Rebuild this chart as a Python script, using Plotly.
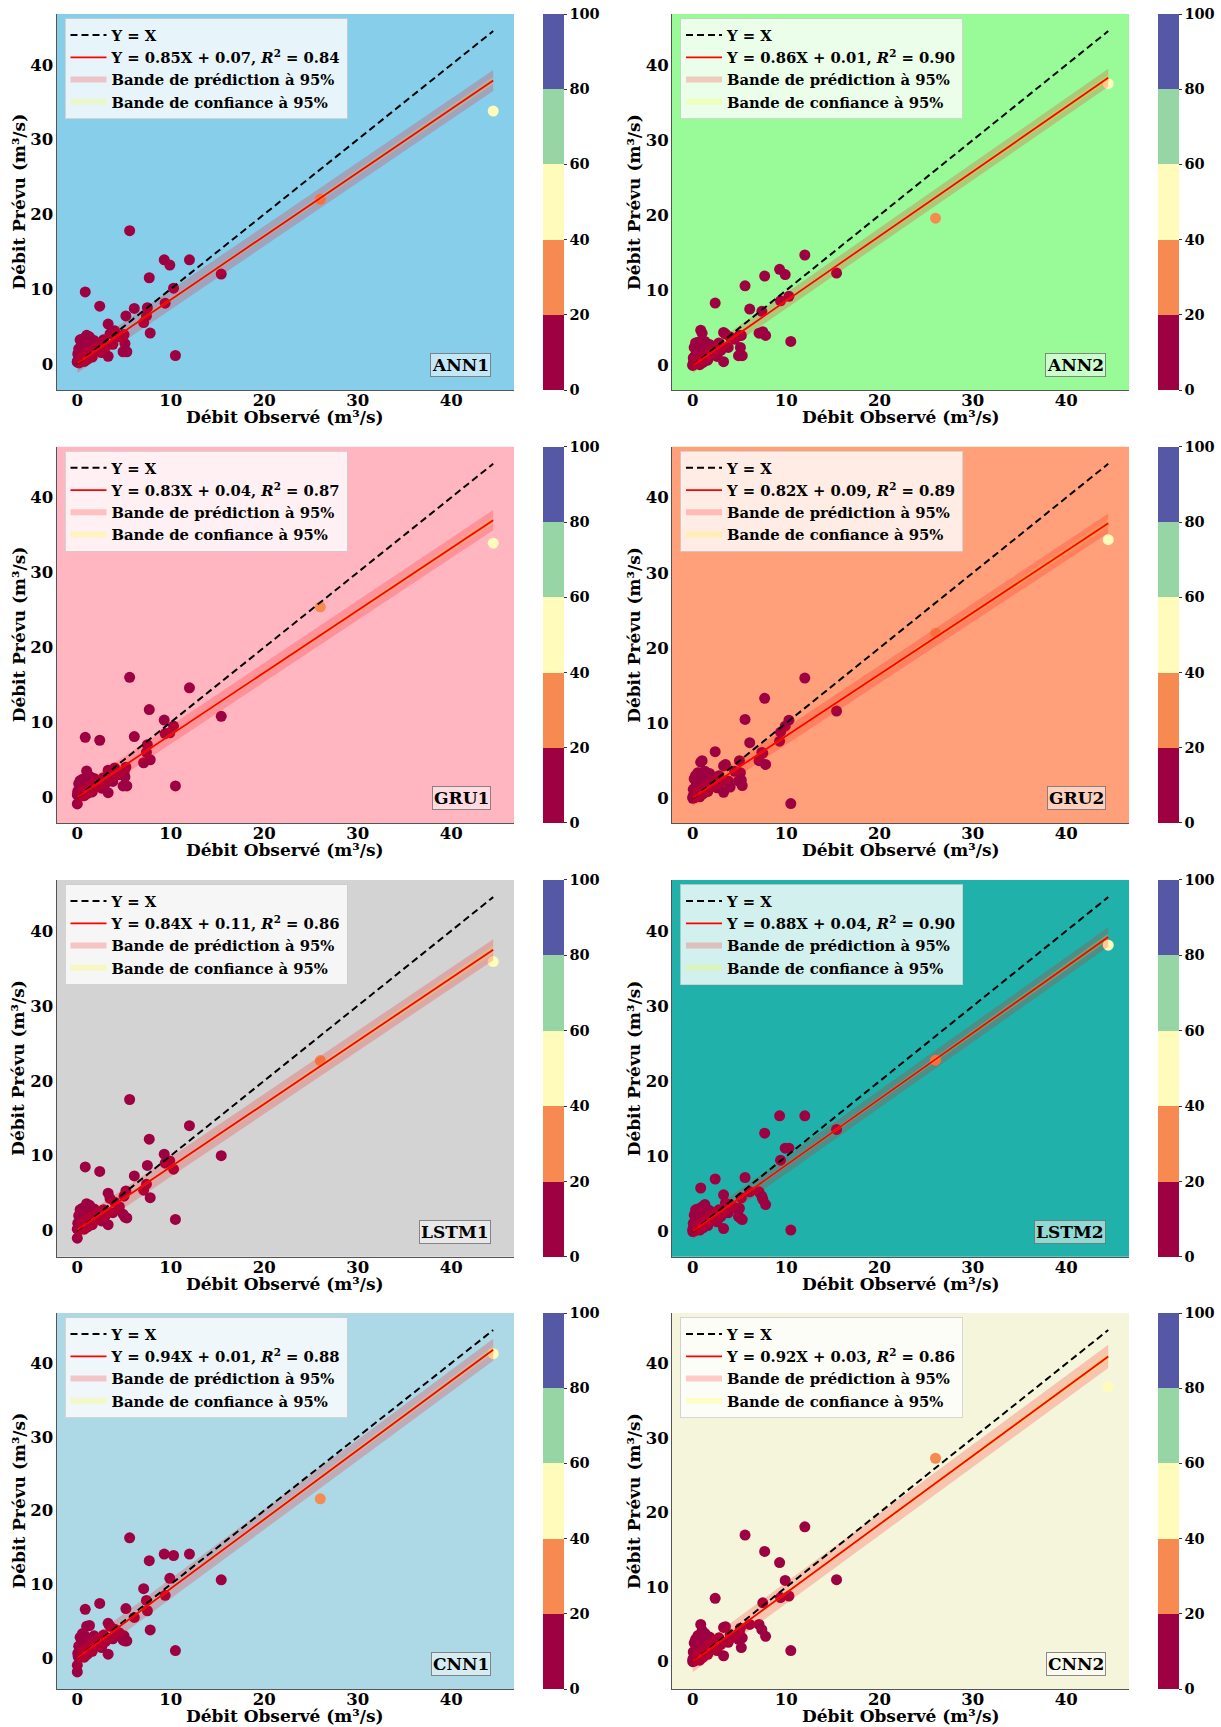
import plotly.graph_objects as go

# ---------------- data ----------------
MODELS = ["ANN1", "ANN2", "GRU1", "GRU2", "LSTM1", "LSTM2", "CNN1", "CNN2"]
SLOPES = [0.85, 0.86, 0.83, 0.82, 0.84, 0.88, 0.94, 0.92]
INTERCEPTS = [0.07, 0.01, 0.04, 0.09, 0.11, 0.04, 0.01, 0.03]
R2 = [0.84, 0.90, 0.87, 0.89, 0.86, 0.90, 0.88, 0.86]
BG_COLORS = ["#87ceeb", "#98fb98", "#ffb6c1", "#ffa07a",
             "#d3d3d3", "#20b2aa", "#add8e6", "#f5f5dc"]
X_TITLE = "Débit Observé (m³/s)"
Y_TITLE = "Débit Prévu (m³/s)"

OBS = [0.00, 0.00, 0.05, 0.10, 0.15, 0.20, 0.25, 0.30, 0.35, 0.40,
       0.45, 0.50, 0.55, 0.60, 0.70, 0.75, 0.80, 0.85, 0.90, 1.00,
       1.10, 1.20, 1.30, 1.40, 1.50, 1.60, 1.80, 2.00, 2.20, 2.40,
       2.60, 2.80, 3.00, 3.30, 3.30, 3.50, 3.80, 4.00, 4.50, 5.00,
       5.10, 5.20, 5.30, 5.60, 6.10, 7.10, 7.40, 7.50, 7.70, 7.80,
       9.30, 9.40, 9.90, 10.30, 10.50, 12.00, 15.40, 26.00, 44.50, 4.90]

PRED_ANN1 = [0.2, 0.3, 1.3, 0.5, 2.0, 0.1, 1.0, 3.2, 0.4, 1.8,
             2.6, 0.8, 3.3, 1.4, 2.2, 0.3, 1.1, 9.6, 2.9, 3.8,
             0.6, 1.9, 3.6, 1.2, 2.6, 0.9, 3.1, 1.7, 2.5, 7.7,
             1.5, 3.2, 2.2, 5.3, 1.0, 4.0, 2.6, 4.4, 3.6, 3.9,
             2.7, 6.4, 1.6, 17.8, 7.4, 5.5, 6.4, 7.5, 11.5, 4.1,
             13.9, 8.1, 13.2, 10.1, 1.1, 13.9, 12.0, 22.0, 33.8, 1.6]
PRED_ANN2 = [0.1, 0.0, 1.0, 0.6, 2.4, 0.2, 1.3, 3.0, 0.5, 1.6,
             2.9, 0.9, 3.1, 1.5, 2.0, 0.1, 1.2, 4.7, 2.7, 4.3,
             0.4, 1.8, 3.2, 1.0, 2.3, 0.7, 2.8, 1.5, 2.1, 8.3,
             1.2, 3.0, 2.0, 4.4, 0.5, 4.2, 2.4, 3.8, 3.5, 4.0,
             2.4, 4.0, 1.3, 10.6, 7.5, 4.3, 7.2, 4.5, 11.9, 4.0,
             12.8, 8.6, 12.1, 9.2, 3.2, 14.7, 12.3, 19.6, 37.5, 1.3]
PRED_GRU1 = [-0.9, 0.3, 0.8, 0.4, 1.8, 0.1, 0.9, 2.2, 0.3, 1.5,
             2.0, 0.6, 2.4, 1.1, 1.7, 0.2, 0.9, 8.0, 2.5, 3.5,
             0.5, 1.6, 2.8, 1.0, 2.1, 0.7, 2.5, 1.4, 2.0, 7.6,
             1.2, 2.6, 1.8, 3.6, 0.6, 3.3, 2.1, 3.9, 3.0, 3.3,
             2.7, 4.0, 1.5, 16.0, 8.1, 4.6, 6.0, 7.0, 11.7, 5.0,
             10.3, 8.5, 8.6, 9.5, 1.5, 14.6, 10.8, 25.4, 33.9, 1.5]
PRED_GRU2 = [0.0, 0.2, 1.2, 0.5, 2.6, 0.1, 1.4, 3.0, 0.4, 2.0,
             2.6, 0.7, 3.4, 1.6, 2.3, 0.2, 1.0, 4.8, 3.2, 5.0,
             0.6, 2.2, 3.6, 1.3, 2.8, 0.9, 3.3, 1.7, 2.4, 6.2,
             1.4, 3.0, 2.1, 4.3, 0.8, 4.5, 2.3, 1.5, 3.6, 5.0,
             3.4, 2.4, 1.7, 10.5, 7.4, 5.0, 6.1, 6.0, 13.3, 4.5,
             7.6, 8.8, 9.6, 10.4, -0.7, 16.0, 11.6, 22.0, 34.4, 2.3]
PRED_LSTM1 = [-1.0, 0.2, 1.0, 0.4, 2.0, 0.1, 1.2, 2.8, 0.3, 1.7,
              2.4, 0.6, 3.0, 1.3, 2.0, 0.2, 1.0, 8.5, 2.6, 3.6,
              0.5, 1.7, 3.4, 1.1, 2.4, 0.8, 2.9, 1.6, 2.3, 7.9,
              1.3, 2.8, 2.0, 5.0, 0.8, 4.3, 2.4, 3.8, 3.2, 4.6,
              1.8, 5.3, 1.7, 17.5, 7.3, 5.4, 6.2, 8.7, 12.2, 4.4,
              10.2, 9.0, 9.3, 8.2, 1.5, 14.0, 10.0, 22.7, 35.9, 2.2]
PRED_LSTM2 = [0.0, 0.3, 1.1, 0.5, 2.2, 0.1, 1.3, 2.9, 0.4, 1.8,
              2.5, 0.7, 3.0, 1.4, 2.1, 0.2, 1.1, 5.8, 2.7, 3.3,
              0.5, 1.8, 3.6, 1.1, 2.4, 0.8, 2.8, 1.6, 2.3, 7.0,
              1.3, 2.9, 2.0, 4.9, 0.4, 3.8, 2.5, 3.6, 3.2, 3.1,
              1.8, 4.5, 1.6, 7.2, 5.3, 5.3, 4.7, 4.3, 13.1, 3.6,
              15.4, 9.5, 11.1, 11.1, 0.2, 15.4, 13.6, 22.8, 38.1, 2.0]
PRED_CNN1 = [-1.9, -1.0, 0.6, 0.2, 1.6, 0.0, 1.0, 2.8, 0.3, 1.9,
             2.4, 0.6, 3.3, 1.3, 2.1, 0.1, 1.0, 6.6, 2.9, 4.3,
             0.5, 1.8, 4.4, 1.1, 2.6, 0.9, 3.0, 1.7, 2.4, 7.4,
             1.4, 3.1, 2.2, 4.7, 0.5, 4.3, 2.6, 3.9, 3.4, 3.0,
             2.3, 6.7, 2.3, 16.3, 5.5, 9.4, 7.8, 6.4, 13.2, 3.8,
             14.1, 8.5, 10.8, 13.9, 1.0, 14.1, 10.6, 21.6, 41.3, 2.4]
PRED_CNN2 = [0.0, 0.3, 1.3, 0.5, 2.5, 0.1, 1.5, 3.0, 0.4, 2.0,
             2.7, 0.8, 3.5, 1.6, 2.4, 0.2, 1.2, 5.0, 3.1, 4.2,
             0.6, 2.2, 3.8, 1.3, 2.9, 1.0, 3.3, 1.8, 2.6, 8.5,
             1.5, 3.2, 2.3, 4.6, 0.8, 4.7, 2.6, 3.6, 3.3, 3.8,
             4.5, 1.9, 3.2, 17.0, 5.0, 5.0, 4.3, 7.9, 14.8, 3.4,
             13.3, 8.6, 10.9, 8.8, 1.5, 18.1, 11.0, 27.3, 36.9, 3.0]
PREDICTIONS = [PRED_ANN1, PRED_ANN2, PRED_GRU1, PRED_GRU2,
               PRED_LSTM1, PRED_LSTM2, PRED_CNN1, PRED_CNN2]

# half-widths of the bands at the smallest and the largest observed value
PRED_BAND_HW = [[1.3, 1.4], [1.0, 1.2], [1.2, 1.35], [1.1, 1.3],
                [1.3, 1.4], [1.1, 1.3], [1.3, 1.5], [1.4, 1.55]]
CONF_BAND_HW = [[0.15, 0.5], [0.12, 0.45], [0.15, 0.5], [0.14, 0.5],
                [0.16, 0.55], [0.13, 0.45], [0.15, 0.5], [0.16, 0.55]]

CBAR_TICKS = [0, 20, 40, 60, 80, 100]
AXIS_TICKS = [0, 10, 20, 30, 40]
BIN_COLORS = ["#9e0142", "#f78a51", "#fffbbb", "#98d5a4", "#5558a5"]

# ---------------- layout geometry ----------------
W, H = 1221, 1727
X_DOMAINS = [(56.5, 514.0), (672.0, 1129.0)]
CBAR_X = [543.0, 1158.0]
ROWS_PX = [(14.0, 390.0), (446.7, 823.0), (880.0, 1256.7), (1313.0, 1689.0)]

FONT = "DejaVu Serif"


def fnt(size, color="black"):
    return dict(family=FONT, size=size, color=color, weight="bold")


# discrete colorscale
cscale = []
n = len(BIN_COLORS)
for i, c in enumerate(BIN_COLORS):
    cscale.append([i / n, c])
    cscale.append([(i + 1) / n, c])

fig = go.Figure()
layout = dict(width=W, height=H, margin=dict(l=0, r=0, t=0, b=0),
              paper_bgcolor="white", plot_bgcolor="rgba(0,0,0,0)",
              showlegend=True, shapes=[], annotations=[])

for k, name in enumerate(MODELS):
    r, c = divmod(k, 2)
    sfx = "" if k == 0 else str(k + 1)
    xa, ya = "x" + sfx, "y" + sfx
    leg = "legend" + sfx
    cax = "coloraxis" + sfx
    yvals = PREDICTIONS[k]
    s, b = SLOPES[k], INTERCEPTS[k]
    xlo, xhi = min(OBS), max(OBS)
    fit_y = [s * xlo + b, s * xhi + b]
    ph, ch = PRED_BAND_HW[k], CONF_BAND_HW[k]

    # scatter
    fig.add_trace(go.Scatter(
        x=OBS, y=yvals, mode="markers", xaxis=xa, yaxis=ya, showlegend=False,
        legend=leg,
        marker=dict(size=11, color=OBS, coloraxis=cax, line=dict(width=0))))
    # prediction band
    fig.add_trace(go.Scatter(
        x=[xlo, xhi, xhi, xlo, xlo],
        y=[fit_y[0] - ph[0], fit_y[1] - ph[1], fit_y[1] + ph[1],
           fit_y[0] + ph[0], fit_y[0] - ph[0]],
        mode="none", fill="toself", fillcolor="rgba(255,0,0,0.2)",
        xaxis=xa, yaxis=ya, name="Bande de prédiction à 95%", legend=leg,
        legendrank=3))
    # confidence band
    fig.add_trace(go.Scatter(
        x=[xlo, xhi, xhi, xlo, xlo],
        y=[fit_y[0] - ch[0], fit_y[1] - ch[1], fit_y[1] + ch[1],
           fit_y[0] + ch[0], fit_y[0] - ch[0]],
        mode="none", fill="toself", fillcolor="rgba(255,255,0,0.2)",
        xaxis=xa, yaxis=ya, name="Bande de confiance à 95%", legend=leg,
        legendrank=4))
    # Y = X
    fig.add_trace(go.Scatter(
        x=[xlo, xhi], y=[xlo, xhi], mode="lines", xaxis=xa, yaxis=ya,
        name="Y = X", legend=leg, legendrank=1,
        line=dict(color="black", width=2, dash="7px,4px")))
    # regression
    fig.add_trace(go.Scatter(
        x=[xlo, xhi], y=fit_y, mode="lines", xaxis=xa, yaxis=ya,
        name=f"Y = {s:.2f}X + {b:.2f}, <i>R</i><sup>2</sup> = {R2[k]:.2f}",
        legend=leg, legendrank=2, line=dict(color="red", width=1.8)))

    # ranges (matplotlib-like 5% margins)
    xs = max(OBS) - min(OBS)
    xr = [min(OBS) - 0.05 * xs, max(OBS) + 0.05 * xs]
    allys = list(yvals) + [xlo, xhi, fit_y[0] - ph[0], fit_y[1] - ph[1],
                           fit_y[0] + ph[0], fit_y[1] + ph[1]]
    ys = max(allys) - min(allys)
    yr = [min(allys) - 0.05 * ys, max(allys) + 0.05 * ys]

    x0p, x1p = X_DOMAINS[c]
    t_px, b_px = ROWS_PX[r]
    xd = [x0p / W, x1p / W]
    yd = [1 - b_px / H, 1 - t_px / H]

    axis_common = dict(showgrid=False, zeroline=False, showline=True,
                       linecolor="#555555", linewidth=1, ticks="",
                       tickfont=fnt(16.5), tickvals=AXIS_TICKS)
    layout["xaxis" + sfx] = dict(domain=xd, anchor=ya, range=xr,
                                 ticklabelstandoff=-5, **axis_common)
    layout["yaxis" + sfx] = dict(domain=yd, anchor=xa, range=yr,
                                 ticklabelstandoff=-1, **axis_common)

    layout["shapes"].append(dict(
        type="rect", xref=xa + " domain", yref=ya + " domain",
        x0=0, x1=1, y0=0, y1=1, layer="below",
        fillcolor=BG_COLORS[k], line=dict(width=0)))

    # axis titles
    layout["annotations"].append(dict(
        text=X_TITLE, xref=xa + " domain", yref=ya + " domain",
        x=0.5, y=0, xanchor="center", yanchor="middle", yshift=-27,
        showarrow=False, font=fnt(17)))
    layout["annotations"].append(dict(
        text=Y_TITLE, xref=xa + " domain", yref=ya + " domain",
        x=0, y=0.5, xanchor="center", yanchor="middle", xshift=-38,
        textangle=-90, showarrow=False, font=fnt(17)))

    # model name
    layout["annotations"].append(dict(
        text=name, xref=xa + " domain", yref=ya + " domain",
        x=0.95, y=0.035, xanchor="right", yanchor="bottom", showarrow=False,
        font=fnt(17), bgcolor="rgba(255,255,255,0.5)",
        bordercolor="rgba(110,110,110,0.8)", borderwidth=1, borderpad=1))

    layout[leg] = dict(
        x=xd[0] + 8 / W, y=yd[1] - 4 / H, xanchor="left", yanchor="top",
        bgcolor="rgba(255,255,255,0.8)", bordercolor="rgba(204,204,204,0.8)",
        borderwidth=1, font=fnt(14.8), itemwidth=36, tracegroupgap=0)

    layout[cax] = dict(
        cmin=0, cmax=100, colorscale=cscale,
        colorbar=dict(
            x=CBAR_X[c] / W, xanchor="left", xpad=0, ypad=0,
            y=(yd[0] + yd[1]) / 2, yanchor="middle",
            len=yd[1] - yd[0], lenmode="fraction",
            thickness=21, thicknessmode="pixels", outlinewidth=0,
            tickvals=CBAR_TICKS, ticks="outside", ticklen=3,
            tickcolor="#333", tickfont=fnt(14.5)))

fig.update_layout(**layout)
fig.write_html("out.html")
